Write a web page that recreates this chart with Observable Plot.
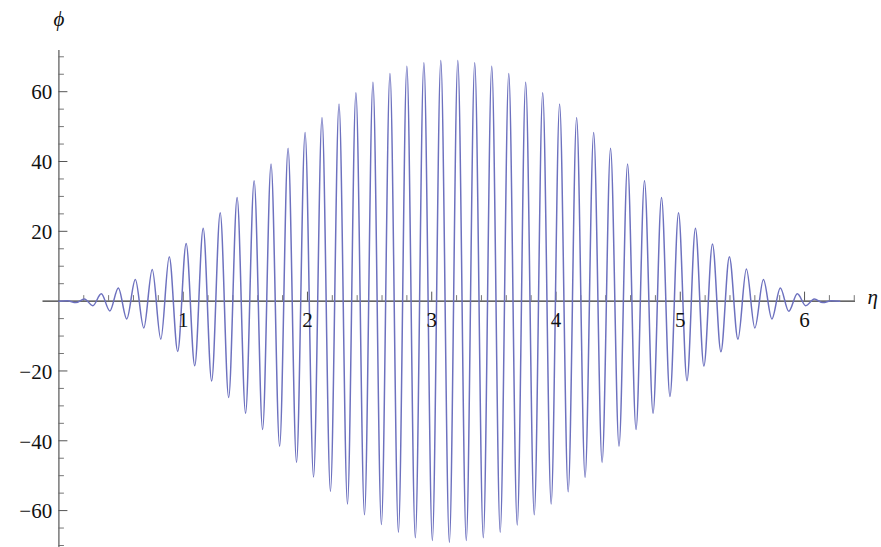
<!DOCTYPE html>
<html>
<head>
<meta charset="utf-8">
<script src="https://cdn.jsdelivr.net/npm/d3@7"></script>
<script src="https://cdn.jsdelivr.net/npm/@observablehq/plot@0.6"></script>
<style>
  html, body { margin: 0; padding: 0; background: #fff; }
  #chart svg { display: block; }
</style>
</head>
<body>
<div id="chart"></div>
<script>
// Extrema of the curve (η, ϕ)
const eta = [
  0.000, 0.068, 0.137, 0.205, 0.273, 0.341, 0.410, 0.478, 0.546, 0.615,
  0.683, 0.751, 0.820, 0.888, 0.956, 1.024, 1.093, 1.161, 1.229, 1.298,
  1.366, 1.434, 1.502, 1.571, 1.639, 1.707, 1.776, 1.844, 1.912, 1.981,
  2.049, 2.117, 2.185, 2.254, 2.322, 2.390, 2.459, 2.527, 2.595, 2.664,
  2.732, 2.800, 2.868, 2.937, 3.005, 3.073, 3.142, 3.210, 3.278, 3.346,
  3.415, 3.483, 3.551, 3.620, 3.688, 3.756, 3.825, 3.893, 3.961, 4.029,
  4.098, 4.166, 4.234, 4.303, 4.371, 4.439, 4.507, 4.576, 4.644, 4.712,
  4.781, 4.849, 4.917, 4.986, 5.054, 5.122, 5.190, 5.259, 5.327, 5.395,
  5.464, 5.532, 5.600, 5.669, 5.737, 5.805, 5.873, 5.942, 6.010, 6.078,
  6.147, 6.215, 6.283
];
const phi = [
  0.0, 0.1, -0.4, 0.6, -1.3, 2.1, -2.8, 3.8, -5.1, 6.2,
  -7.7, 9.1, -10.9, 12.7, -14.4, 16.5, -18.5, 20.9, -22.9, 25.3,
  -27.6, 29.7, -32.1, 34.5, -36.8, 39.3, -41.6, 43.8, -46.2, 48.3,
  -50.4, 52.6, -54.5, 56.5, -58.1, 59.7, -61.2, 62.7, -64.0, 65.2,
  -66.2, 67.3, -67.8, 68.3, -68.6, 68.9, -69.1, 68.9, -68.6, 68.3,
  -67.8, 67.3, -66.2, 65.2, -64.1, 62.7, -61.2, 59.7, -58.1, 56.5,
  -54.6, 52.6, -50.5, 48.3, -46.2, 43.8, -41.6, 39.3, -36.8, 34.5,
  -32.1, 29.7, -27.3, 25.3, -22.8, 20.9, -18.6, 16.4, -14.5, 12.7,
  -10.9, 9.2, -7.7, 6.2, -5.1, 3.8, -2.9, 2.1, -1.3, 0.6,
  -0.4, 0.1, 0.0
];

const xMajorTicks = [1, 2, 3, 4, 5, 6];
const xMinorTicks = [0.2, 0.4, 0.6, 0.8, 1.2, 1.4, 1.6, 1.8, 2.2, 2.4, 2.6, 2.8,
  3.2, 3.4, 3.6, 3.8, 4.2, 4.4, 4.6, 4.8, 5.2, 5.4, 5.6, 5.8, 6.2, 6.4];
const yMajorTicks = [-60, -40, -20, 20, 40, 60];
const yMinorTicks = [-70, -65, -55, -50, -45, -35, -30, -25, -15, -10, -5,
  5, 10, 15, 25, 30, 35, 45, 50, 55, 65, 70];
const yTickLabels = ["−60", "−40", "−20", "20", "40", "60"];

const data = eta.map((x, i) => ({x, y: phi[i]}));

const W = 881, H = 547;
const mL = 42.5, mR = 26, mT = 50, mB = 2;
const xDomain = [-0.128, 6.41];
const yDomain = [-70.0, 71.8];
const pxPerX = (W - mL - mR) / (xDomain[1] - xDomain[0]);
const pxPerY = (H - mT - mB) / (yDomain[1] - yDomain[0]);
const majorLen = 9, minorLen = 5.5;
const axisColor = "#333";
const font = "'Liberation Serif', 'Times New Roman', serif";

const chart = Plot.plot({
  width: W, height: H,
  marginLeft: mL, marginRight: mR, marginTop: mT, marginBottom: mB,
  x: {domain: xDomain, axis: null},
  y: {domain: yDomain, axis: null},
  style: {background: "#fff", overflow: "visible"},
  marks: [
    // axes lines
    Plot.ruleY([0], {stroke: axisColor, strokeWidth: 1.2}),
    Plot.ruleX([0], {stroke: "#555", strokeWidth: 1.2, y1: yDomain[0] - 1, y2: yDomain[1]}),
    // x ticks (pointing up)
    Plot.ruleX(xMajorTicks, {x: d => d, y1: 0, y2: majorLen / pxPerY, stroke: "#555", strokeWidth: 1}),
    Plot.ruleX(xMinorTicks, {x: d => d, y1: 0, y2: minorLen / pxPerY, stroke: "#666", strokeWidth: 0.9}),
    // y ticks (pointing right)
    Plot.ruleY(yMajorTicks, {y: d => d, x1: 0, x2: majorLen / pxPerX, stroke: "#555", strokeWidth: 1}),
    Plot.ruleY(yMinorTicks, {y: d => d, x1: 0, x2: minorLen / pxPerX, stroke: "#666", strokeWidth: 0.9}),
    // curve
    Plot.line(data, {x: "x", y: "y", curve: "monotone-x", stroke: "#6d71bf", strokeWidth: 1.5}),
    // tick labels
    Plot.text(xMajorTicks, {x: d => d, y: 0, dy: 19.5, text: d => String(d),
      fontFamily: font, fontSize: 21, fill: "#111", textAnchor: "middle"}),
    Plot.text(yMajorTicks, {x: 0, y: d => d, dx: -6.7, dy: 1,
      text: (d, i) => yTickLabels[i], fontFamily: font, fontSize: 21, fill: "#111", textAnchor: "end"}),
    // axis labels
    Plot.text(["ϕ"], {x: 0, y: yDomain[1], dy: -31, text: d => d, fontFamily: font,
      fontSize: 21, fontStyle: "italic", fill: "#111", textAnchor: "middle"}),
    Plot.text(["η"], {x: xDomain[1], y: 0, dx: 12, dy: -4, text: d => d, fontFamily: font,
      fontSize: 21, fontStyle: "italic", fill: "#111", textAnchor: "start"})
  ]
});
document.getElementById("chart").appendChild(chart);
</script>
</body>
</html>
